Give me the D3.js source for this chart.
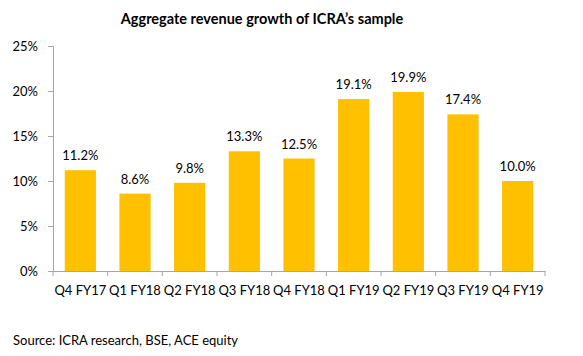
<!DOCTYPE html>
<html><head><meta charset="utf-8">
<script src="https://cdn.jsdelivr.net/npm/d3@7"></script>
<style>body{margin:0;background:#fff}svg{display:block}text{font-family:Lato,"Open Sans",sans-serif;fill:#000}</style>
</head><body><svg id="c" width="583" height="356"></svg>
<script>
const categories = ["Q4 FY17","Q1 FY18","Q2 FY18","Q3 FY18","Q4 FY18","Q1 FY19","Q2 FY19","Q3 FY19","Q4 FY19"];
const values = [11.2, 8.6, 9.8, 13.3, 12.5, 19.1, 19.9, 17.4, 10.0];
const yTicks = [0, 5, 10, 15, 20, 25];

const svg = d3.select("#c");
const m = {left: 53, right: 38, top: 46, bottom: 85};
const W = 583, H = 356;
const x = d3.scaleBand().domain(categories).range([m.left, W - m.right]).paddingInner(0.43).paddingOuter(0.215);
const xb = d3.scaleBand().domain(categories).range([m.left, W - m.right]);
const y = d3.scaleLinear().domain([0, 25]).range([H - m.bottom, m.top]);

svg.append("text").attr("x", 262).attr("y", 24).attr("text-anchor", "middle")
  .style("font-weight", "bold").style("font-size", "14.5px").text("Aggregate revenue growth of ICRA\u2019s sample");

// y axis
const ya = svg.append("g").attr("transform", `translate(${m.left},0)`)
  .call(d3.axisLeft(y).tickValues(yTicks).tickFormat(d => d + "%").tickSize(5).tickPadding(10));
ya.select(".domain").attr("stroke", "#a6a6a6");
ya.selectAll(".tick line").attr("stroke", "#a6a6a6");
ya.selectAll("text").style("font-size", "13px").style("font-family", "Lato,sans-serif");

// bars
svg.append("g").selectAll("rect").data(values).join("rect")
  .attr("x", (d, i) => x(categories[i])).attr("width", x.bandwidth())
  .attr("y", d => y(d)).attr("height", d => y(0) - y(d)).attr("fill", "#FFC000");

// value labels
svg.append("g").selectAll("text").data(values).join("text")
  .attr("x", (d, i) => x(categories[i]) + x.bandwidth() / 2).attr("y", d => y(d) - 10)
  .attr("text-anchor", "middle").style("font-size", "13px").text(d => d.toFixed(1) + "%");

// x axis
const xa = svg.append("g").attr("transform", `translate(0,${y(0)})`)
  .call(d3.axisBottom(xb).tickSize(0).tickPadding(15));
xa.select(".domain").attr("stroke", "#a6a6a6");
xa.selectAll("text").style("font-size", "13px").style("font-family", "Lato,sans-serif");
xa.selectAll(".sep").data(d3.range(categories.length + 1)).join("line").attr("class", "sep")
  .attr("x1", i => m.left + i * xb.step()).attr("x2", i => m.left + i * xb.step())
  .attr("y1", 0).attr("y2", 5).attr("stroke", "#a6a6a6");

svg.append("text").attr("x", 13).attr("y", 345).style("font-size", "13px").text("Source: ICRA research, BSE, ACE equity");
</script></body></html>
